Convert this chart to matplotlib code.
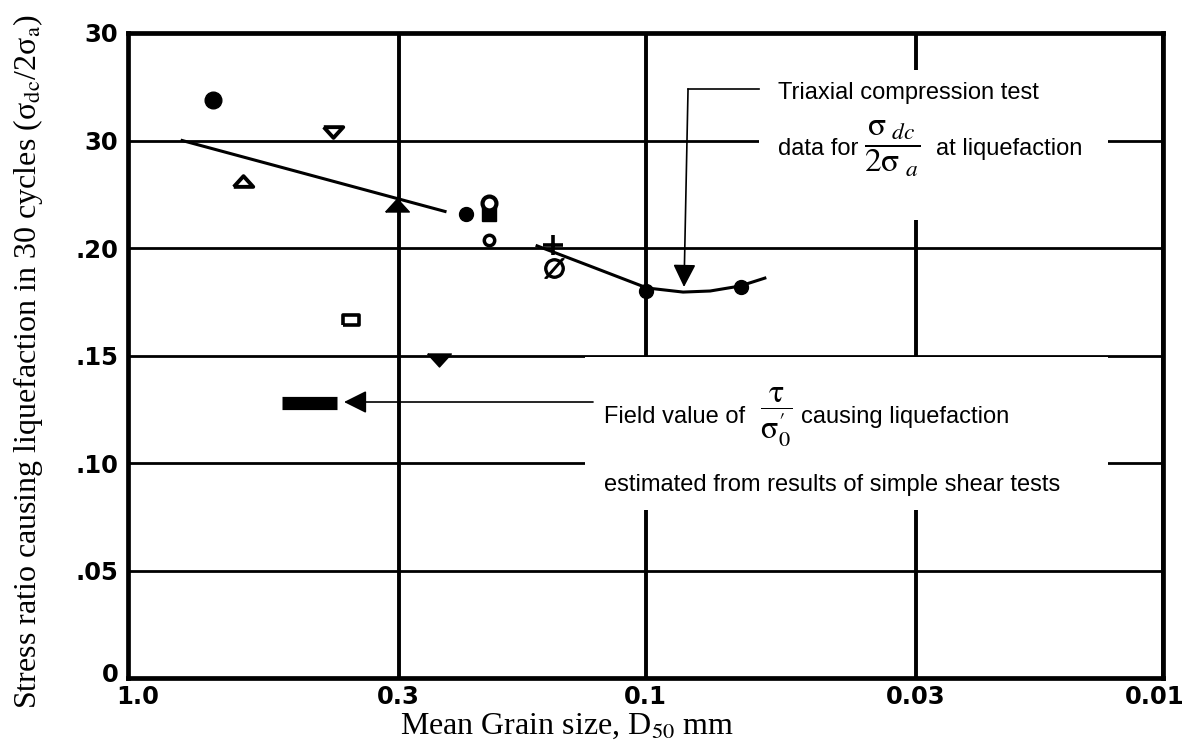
import matplotlib
matplotlib.use('Agg')
import matplotlib.pyplot as plt
import matplotlib.transforms as mtransforms
from matplotlib.patches import Rectangle
from matplotlib.ticker import NullLocator

plt.rcParams['mathtext.fontset'] = 'stix'

# axes
x_ticks = [1.0, 0.3, 0.1, 0.03, 0.01]
x_tick_labels = ['1.0', '0.3', '0.1', '0.03', '0.01']
y_ticks = [0, 0.05, 0.10, 0.15, 0.20, 0.25, 0.30]
y_tick_labels = ['0', '.05', '.10', '.15', '.20', '30', '30']

# test points, D50 (mm) vs stress ratio
big_dot_x = [0.685]
big_dot_y = [0.269]
dot_x = [0.222, 0.100, 0.0654]
dot_y = [0.216, 0.180, 0.182]
open_down_x = [0.402]
open_down_y = [0.254]
open_up_x = [0.600]
open_up_y = [0.231]
solid_up_x = [0.302]
solid_up_y = [0.220]
solid_down_x = [0.251]
solid_down_y = [0.148]
ring_x = [0.2006]
ring_y = [0.221]
small_ring_x = [0.201]
small_ring_y = [0.2037]
solid_sq_x = [0.2006]
solid_sq_y = [0.2158]
open_rect_x = [0.371]
open_rect_y = [0.1665]
plus_x = [0.151]
plus_y = [0.2014]
slashed_x = [0.150]
slashed_y = [0.1907]

# field value (simple shear tests)
field_x = [0.504, 0.395]
field_y = [0.128, 0.128]

# trend lines
trend1_x = [0.786, 0.244]
trend1_y = [0.250, 0.217]
trend2_x = [0.162, 0.128, 0.0993, 0.0846, 0.0750, 0.0657, 0.0588]
trend2_y = [0.201, 0.1916, 0.1814, 0.1795, 0.1800, 0.1823, 0.1860]

fig = plt.figure(figsize=(11.89, 7.46), dpi=100)
ax = fig.add_axes([128/1189, 1 - 678/746, 1035/1189, 645/746])
ax.set_xscale('log')
ax.set_xlim(1.0, 0.01)
ax.set_ylim(0, 0.30)
ax.set_xticks(x_ticks)
ax.set_xticklabels(x_tick_labels)
ax.xaxis.set_minor_locator(NullLocator())
ax.set_yticks(y_ticks)
ax.set_yticklabels(y_tick_labels)
ax.tick_params(length=0, labelsize=17.5)
ax.tick_params(axis='x', pad=5)
ax.tick_params(axis='y', pad=7)
for lbl in ax.get_xticklabels() + ax.get_yticklabels():
    lbl.set_fontweight('bold')
    lbl.set_family('DejaVu Sans')

# small nudges so the corner labels sit like the original
xl = ax.get_xticklabels()
xl[0].set_transform(xl[0].get_transform() + mtransforms.ScaledTranslation(0.10, 0, fig.dpi_scale_trans))
xl[-1].set_transform(xl[-1].get_transform() + mtransforms.ScaledTranslation(-0.08, 0, fig.dpi_scale_trans))
yl = ax.get_yticklabels()
yl[0].set_transform(yl[0].get_transform() + mtransforms.ScaledTranslation(0, 0.06, fig.dpi_scale_trans))

ax.set_axisbelow(True)
ax.xaxis.grid(True, color='k', lw=2.8)
ax.yaxis.grid(True, color='k', lw=2.0)
for s in ax.spines.values():
    s.set_linewidth(3.4)

# white boxes behind the notes (they cut the grid)
ax.add_patch(Rectangle((0.6097, 0.7101), 0.3372, 0.2325, transform=ax.transAxes,
                       fc='white', ec='none', zorder=1))
ax.add_patch(Rectangle((0.4415, 0.2605), 0.5054, 0.2372, transform=ax.transAxes,
                       fc='white', ec='none', zorder=1))

# data
ax.plot(trend1_x, trend1_y, color='k', lw=2.2, zorder=3)
ax.plot(trend2_x, trend2_y, color='k', lw=2.2, zorder=3)

up_tri = [(-1, -0.55), (1, -0.55), (0, 0.55), (-1, -0.55)]
down_tri = [(-1, 0.55), (1, 0.55), (0, -0.55), (-1, 0.55)]
rect = [(-1, -0.6), (1, -0.6), (1, 0.6), (-1, 0.6), (-1, -0.6)]

ax.plot(big_dot_x, big_dot_y, 'o', color='k', ms=12, zorder=4)
ax.plot(dot_x, dot_y, 'o', color='k', ms=10, zorder=4)
ax.plot(open_down_x, open_down_y, ls='none', marker=down_tri, ms=14, mfc='white',
        mec='k', mew=2.8, zorder=4)
ax.plot(open_up_x, open_up_y, ls='none', marker=up_tri, ms=14, mfc='white',
        mec='k', mew=2.8, zorder=4)
ax.plot(solid_up_x, solid_up_y, ls='none', marker=up_tri, ms=17, color='k', zorder=4)
ax.plot(solid_down_x, solid_down_y, ls='none', marker=down_tri, ms=17, color='k', zorder=4)
ax.plot(solid_sq_x, solid_sq_y, 's', color='k', ms=10, zorder=4)
ax.plot(ring_x, ring_y, 'o', mfc='white', mec='k', mew=3, ms=10, zorder=5)
ax.plot(small_ring_x, small_ring_y, 'o', mfc='white', mec='k', mew=2.5, ms=7.5, zorder=5)
ax.plot(open_rect_x, open_rect_y, ls='none', marker=rect, ms=12, mfc='white',
        mec='k', mew=2.6, zorder=4)
ax.plot(plus_x, plus_y, '+', color='k', ms=15, mew=2.6, zorder=4)
ax.plot(slashed_x, slashed_y, ls='none', marker=r'$\emptyset$', color='k', ms=14, zorder=4)
ax.plot(field_x, field_y, color='k', lw=9.5, solid_capstyle='butt', zorder=4)

# notes
sans = 'Liberation Sans'
arrow = dict(arrowstyle='-|>,head_length=1.0,head_width=0.5', lw=1.2, color='k',
             mutation_scale=14, shrinkA=0, shrinkB=0)

ax.plot([0.5411, 0.6097], [0.9132, 0.9132], transform=ax.transAxes, color='k', lw=1.2, zorder=5)
ax.annotate('', xy=(0.5372, 0.6062), xytext=(0.5411, 0.9132), xycoords='axes fraction',
            arrowprops=arrow, zorder=5)
ax.text(0.628, 0.907, 'Triaxial compression test', transform=ax.transAxes,
        fontsize=17, family=sans, va='center', zorder=6)
ax.text(0.628, 0.820, 'data for', transform=ax.transAxes,
        fontsize=17, family=sans, va='center', zorder=6)
ax.text(0.738, 0.820, r'$\dfrac{\mathrm{\sigma}_{\ dc}}{2\mathrm{\sigma}_{\ a}}$',
        transform=ax.transAxes, fontsize=24, ha='center', va='center', zorder=6)
ax.text(0.781, 0.820, 'at liquefaction', transform=ax.transAxes,
        fontsize=17, family=sans, va='center', zorder=6)

ax.annotate('', xy=(0.2087, 0.4279), xytext=(0.4493, 0.4279), xycoords='axes fraction',
            arrowprops=arrow, zorder=5)
ax.text(0.46, 0.405, 'Field value of', transform=ax.transAxes,
        fontsize=17, family=sans, va='center', zorder=6)
ax.text(0.626, 0.405, r'$\dfrac{\mathrm{\tau}}{\mathrm{\sigma}_0^{\prime}}$',
        transform=ax.transAxes, fontsize=23, ha='center', va='center', zorder=6)
ax.text(0.650, 0.405, 'causing liquefaction', transform=ax.transAxes,
        fontsize=17, family=sans, va='center', zorder=6)
ax.text(0.46, 0.300, 'estimated from results of simple shear tests', transform=ax.transAxes,
        fontsize=17, family=sans, va='center', zorder=6)

# axis titles
serif = 'Liberation Serif'
fig.text(28/1189, 1 - 362/746,
         r'Stress ratio causing liquefaction in 30 cycles (σ$_{\mathrm{dc}}$/2σ$_{\mathrm{a}}$)',
         rotation=90, fontsize=23, family=serif, ha='center', va='center')
fig.text(567/1189, 1 - 726/746, r'Mean Grain size, D$_{\mathrm{50}}$ mm',
         fontsize=23, family=serif, ha='center', va='center')

fig.savefig('out.png', dpi=100)
